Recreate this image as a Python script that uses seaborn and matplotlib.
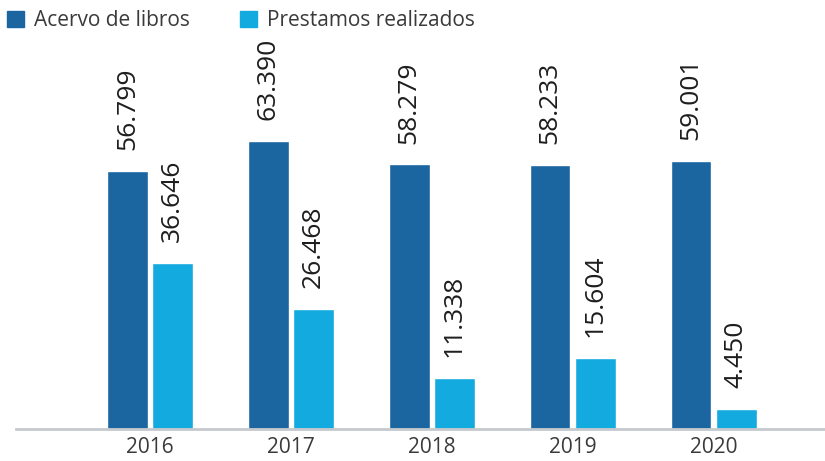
import pandas as pd
import matplotlib
matplotlib.use("Agg")
import matplotlib.pyplot as plt
import seaborn as sns
from matplotlib.patches import Patch

# data
years = ["2016", "2017", "2018", "2019", "2020"]
acervo = [56799, 63390, 58279, 58233, 59001]
prestamos = [36646, 26468, 11338, 15604, 4450]
series_names = ["Acervo de libros", "Prestamos realizados"]

dark = "#1B65A0"
light = "#13AAE0"
text_col = "#3a3a3a"

df = pd.DataFrame({
    "year": years * 2,
    "value": acervo + prestamos,
    "serie": [series_names[0]] * len(years) + [series_names[1]] * len(years),
})

sns.set_style("white")
plt.rcParams["font.family"] = ["Open Sans", "DejaVu Sans"]

fig = plt.figure(figsize=(8.25, 4.61), dpi=100)
ax = fig.add_axes([0.0194, 0.0694, 0.9806, 0.8438])

sns.barplot(data=df, x="year", y="value", hue="serie",
            palette=[dark, light], width=0.64, gap=0.1,
            saturation=1, ax=ax, legend=False)

ax.set_xlim(-0.95, 4.79)
ax.set_ylim(0, 85700)
ax.set_xlabel("")
ax.set_ylabel("")
ax.set_yticks([])
for s in ["top", "right", "left"]:
    ax.spines[s].set_visible(False)
ax.spines["bottom"].set_color("#c5c9cd")
ax.spines["bottom"].set_linewidth(2)
ax.tick_params(axis="x", length=0, pad=6)
for lab in ax.get_xticklabels():
    lab.set_family(["Liberation Sans Narrow", "Open Sans"])
    lab.set_fontsize(15)
    lab.set_color(text_col)

# rotated value labels above each bar
for p in ax.patches:
    h = p.get_height()
    if h <= 0:
        continue
    label = f"{int(h):,}".replace(",", ".")
    ax.annotate(label, (p.get_x() + p.get_width() / 2, h),
                xytext=(0, 15), textcoords="offset points",
                rotation=90, ha="center", va="bottom",
                fontsize=19, color="#1e1e1e")

handles = [Patch(color=dark), Patch(color=light)]
fig.legend(handles, series_names, loc="upper left", bbox_to_anchor=(-0.009, 1.01),
           ncol=2, frameon=False, fontsize=15, handlelength=0.8, handleheight=0.8,
           handletextpad=0.5, columnspacing=2.4, labelcolor=text_col,
           borderaxespad=0.3)

fig.savefig("out.png", dpi=100)
